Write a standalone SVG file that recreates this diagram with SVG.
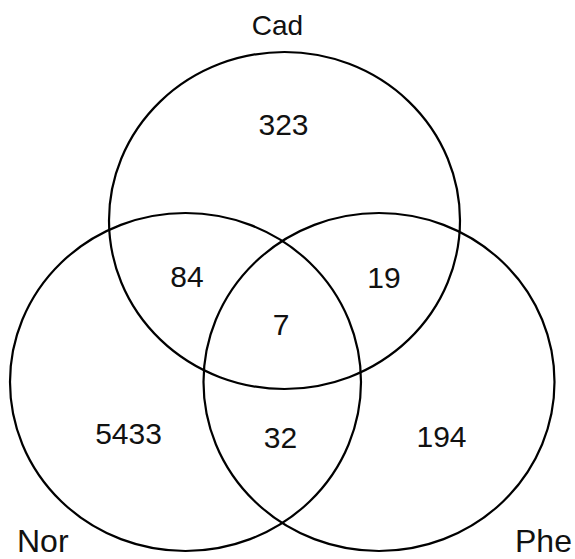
<svg xmlns="http://www.w3.org/2000/svg" width="575" height="559" viewBox="0 0 575 559">
<style>
.c{fill:none;stroke:#000;stroke-width:2.2}
.n{font-family:"Liberation Sans",Arial,sans-serif;font-size:30px;fill:#111;text-anchor:middle}
.t{font-family:"Liberation Sans",Arial,sans-serif;font-size:28px;fill:#111;text-anchor:middle}
.l{font-family:"Liberation Sans",Arial,sans-serif;font-size:32px;fill:#111}
</style>
<rect width="575" height="559" fill="#fff"/>
<g id="cad"><ellipse class="c" cx="284.5" cy="220.5" rx="175.5" ry="168.5"/><text class="t" x="277.5" y="35">Cad</text></g>
<g id="nor"><ellipse class="c" cx="185.5" cy="382" rx="175.5" ry="169"/><text class="l" x="17" y="552">Nor</text></g>
<g id="phe"><ellipse class="c" cx="379" cy="382" rx="175.5" ry="169"/><text class="l" x="515" y="552">Phe</text></g>
<g id="labels">
<text class="n" x="283.5" y="135">323</text>
<text class="n" x="187" y="287">84</text>
<text class="n" x="384" y="288">19</text>
<text class="n" x="281" y="335">7</text>
<text class="n" x="128.5" y="444">5433</text>
<text class="n" x="280.5" y="448">32</text>
<text class="n" x="441.5" y="447">194</text>
</g>
</svg>
